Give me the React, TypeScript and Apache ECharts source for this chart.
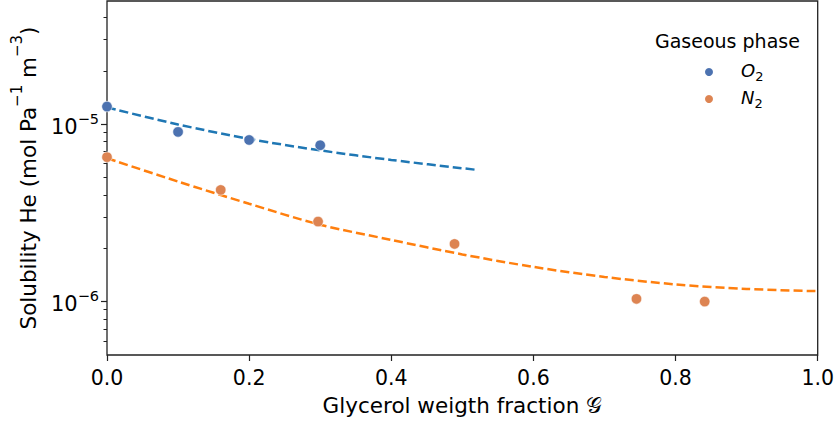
import React, { useEffect, useRef } from "react";
import * as echarts from "echarts";

// ---- data ----
const o2X = [0.0, 0.1, 0.2, 0.3];
const o2Y = [1.257e-5, 9.05e-6, 8.15e-6, 7.61e-6];

const n2X = [0.0, 0.16, 0.297, 0.489, 0.745, 0.841];
const n2Y = [6.52e-6, 4.26e-6, 2.825e-6, 2.114e-6, 1.036e-6, 1.0e-6];

const o2FitX = [0.0, 0.1, 0.2, 0.3, 0.4, 0.52];
const o2FitY = [1.243e-5, 9.97e-6, 8.26e-6, 7.12e-6, 6.29e-6, 5.53e-6];

const n2FitX = [0.0, 0.1, 0.2, 0.3, 0.4, 0.5, 0.6, 0.7, 0.8, 0.9, 1.0];
const n2FitY = [6.43e-6, 4.75e-6, 3.56e-6, 2.713e-6, 2.227e-6, 1.845e-6, 1.569e-6, 1.377e-6, 1.25e-6, 1.179e-6, 1.145e-6];

const yRange = [5.0e-7, 4.95e-5];
const yMajorTicks = [1e-6, 1e-5];
const yMinorTicks = [6e-7, 7e-7, 8e-7, 9e-7, 2e-6, 3e-6, 4e-6, 5e-6, 6e-6, 7e-6, 8e-6, 9e-6, 2e-5, 3e-5, 4e-5];
const xTicks = [0, 0.2, 0.4, 0.6, 0.8, 1.0];

const seriesNames = ["O2", "N2"];
const legendTitle = "Gaseous phase";

const FONT = "DejaVu Sans";
const lg = (v: number) => Math.log10(v);
const pairs = (xs: number[], ys: number[]) => xs.map((x, i) => [x, lg(ys[i])]);

export default function App() {
  const ref = useRef<HTMLDivElement>(null);
  useEffect(() => {
    if (!ref.current) return;
    const chart = echarts.init(ref.current, null, { renderer: "svg" });
    const yMin = lg(yRange[0]);
    const yMax = lg(yRange[1]);
    chart.setOption({
      animation: false,
      backgroundColor: "#ffffff",
      textStyle: { fontFamily: FONT },
      grid: {
        left: 107,
        right: 17,
        top: 1,
        bottom: 72,
        show: true,
        borderColor: "#222",
        borderWidth: 1.3,
        backgroundColor: "transparent",
      },
      xAxis: {
        type: "value",
        min: 0,
        max: 1,
        interval: 0.2,
        splitLine: { show: false },
        axisLine: { show: false },
        axisTick: { show: true, length: 6, lineStyle: { color: "#222", width: 1.2 }, customValues: xTicks },
        axisLabel: {
          color: "#000",
          fontSize: 20.5,
          fontFamily: FONT,
          margin: 12,
          customValues: xTicks,
          formatter: (v: number) => v.toFixed(1),
        },
        name: "Glycerol weigth fraction 𝒢",
        nameLocation: "middle",
        nameGap: 39,
        nameTextStyle: { color: "#000", fontSize: 21.5, fontFamily: FONT, verticalAlign: "top" },
      },
      yAxis: [
        {
          type: "value",
          min: yMin,
          max: yMax,
          splitLine: { show: false },
          axisLine: { show: false },
          axisTick: {
            show: true,
            length: 6,
            lineStyle: { color: "#222", width: 1.2 },
            customValues: yMajorTicks.map(lg),
          },
          axisLabel: {
            margin: 8,
            customValues: yMajorTicks.map(lg),
            formatter: (v: number) => `{b|10}{s|−${Math.round(-v)}}`,
            rich: {
              b: { fontSize: 21, fontFamily: FONT, color: "#000", lineHeight: 26, verticalAlign: "bottom" },
              s: { fontSize: 14.5, fontFamily: FONT, color: "#000", lineHeight: 15, verticalAlign: "top" },
            },
          },
          name: "{t|Solubility He (mol Pa}{s|−1}{t| m}{s|−3}{t|)}",
          nameLocation: "middle",
          nameRotate: 90,
          nameGap: 68,
          nameTextStyle: {
            rich: {
              t: { fontSize: 21.5, fontFamily: FONT, color: "#000", lineHeight: 30, verticalAlign: "bottom" },
              s: { fontSize: 15, fontFamily: FONT, color: "#000", lineHeight: 15, verticalAlign: "top" },
            },
          },
        },
        {
          type: "value",
          min: yMin,
          max: yMax,
          position: "left",
          splitLine: { show: false },
          axisLine: { show: false },
          axisLabel: { show: false },
          axisTick: {
            show: true,
            length: 3.5,
            lineStyle: { color: "#222", width: 1 },
            customValues: yMinorTicks.map(lg),
          },
        },
      ],
      legend: {
        data: seriesNames,
        orient: "vertical",
        left: 698,
        top: 56,
        icon: "circle",
        itemWidth: 54,
        itemHeight: 10,
        itemGap: 5,
        formatter: (name: string) => `{i|${name[0]}}{s|${name.slice(1)}}`,
        textStyle: {
          rich: {
            i: { fontSize: 18, fontStyle: "italic", fontFamily: FONT, color: "#000", lineHeight: 22, verticalAlign: "top" },
            s: { fontSize: 13, fontFamily: FONT, color: "#000", lineHeight: 13, verticalAlign: "bottom" },
          },
        },
      },
      graphic: [
        {
          type: "text",
          left: 655,
          top: 31,
          style: { text: legendTitle, fontSize: 19, fontFamily: FONT, fill: "#000" },
        },
      ],
      series: [
        {
          name: "O2 fit",
          type: "line",
          data: pairs(o2FitX, o2FitY),
          smooth: 0.3,
          showSymbol: false,
          symbol: "none",
          lineStyle: { color: "#1f77b4", width: 2.5, type: [9, 4] },
          z: 2,
        },
        {
          name: "N2 fit",
          type: "line",
          data: pairs(n2FitX, n2FitY),
          smooth: 0.3,
          showSymbol: false,
          symbol: "none",
          lineStyle: { color: "#ff7f0e", width: 2.5, type: [9, 4] },
          z: 2,
        },
        {
          name: "O2",
          type: "scatter",
          data: pairs(o2X, o2Y),
          symbolSize: 10.5,
          itemStyle: { color: "#4c72b0", borderColor: "#ffffff", borderWidth: 0.6, opacity: 1 },
          z: 3,
        },
        {
          name: "N2",
          type: "scatter",
          data: pairs(n2X, n2Y),
          symbolSize: 10.5,
          itemStyle: { color: "#dd8452", borderColor: "#ffffff", borderWidth: 0.6, opacity: 1 },
          z: 3,
        },
      ],
    });
    return () => chart.dispose();
  }, []);
  return <div ref={ref} style={{ width: 837, height: 427, position: "absolute", left: 0, top: 0 }} />;
}
